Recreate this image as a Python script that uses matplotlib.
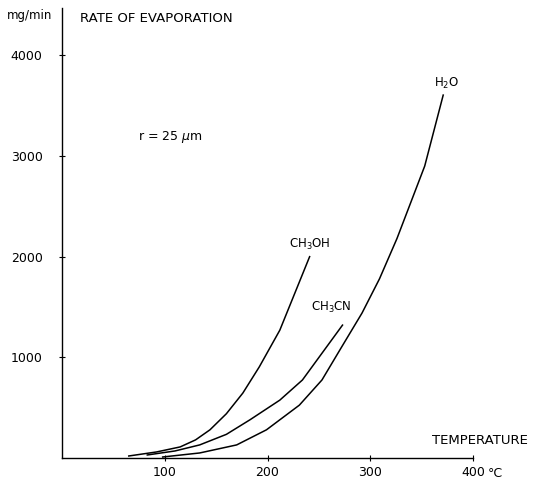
import matplotlib
matplotlib.use("Agg")
import matplotlib.pyplot as plt
import matplotlib.transforms as mtransforms

# values (temperature in °C, rate in mg/min)
t_ch3oh = [65, 92, 115, 130, 144, 160, 176, 192, 212, 241]
r_ch3oh = [20, 60, 110, 180, 280, 440, 645, 905, 1270, 2000]

t_ch3cn = [83, 110, 134, 160, 183, 212, 234, 273]
r_ch3cn = [30, 70, 130, 235, 380, 575, 775, 1320]

t_h2o = [98, 134, 170, 199, 231, 253, 272, 292, 309, 326, 353, 371]
r_h2o = [10, 50, 130, 280, 525, 775, 1100, 1440, 1780, 2180, 2900, 3605]

x_ticks = [100, 200, 300, 400]
x_labels = ["100", "200", "300", "400"]
y_ticks = [1000, 2000, 3000, 4000]
y_labels = ["1000", "2000", "3000", "4000"]

fig = plt.figure(figsize=(5.48, 4.83), dpi=100)
ax = fig.add_axes([62 / 548, 25 / 483, 411 / 548, 450 / 483])

lw = 1.1
ax.plot(t_ch3oh, r_ch3oh, color="black", linewidth=lw)
ax.plot(t_ch3cn, r_ch3cn, color="black", linewidth=lw)
ax.plot(t_h2o, r_h2o, color="black", linewidth=lw)

ax.set_xlim(0, 400)
ax.set_ylim(0, 4470)

ax.spines["top"].set_visible(False)
ax.spines["right"].set_visible(False)
ax.spines["left"].set_linewidth(1.0)
ax.spines["bottom"].set_linewidth(1.0)

ax.set_xticks(x_ticks)
ax.set_xticklabels(x_labels)
ax.set_yticks(y_ticks)
ax.set_yticklabels(y_labels)
ax.tick_params(direction="inout", length=4, width=0.8, labelsize=9, color="black")
ax.tick_params(axis="x", pad=4)
ax.tick_params(axis="y", pad=12)

# curve labels
ax.text(241, 2050, r"CH$_3$OH", fontsize=8.5, ha="center", va="bottom")
ax.text(262, 1420, r"CH$_3$CN", fontsize=8.5, ha="center", va="bottom")
ax.text(374, 3650, r"H$_2$O", fontsize=8.5, ha="center", va="bottom")

ax.text(74, 3190, r"r = 25 $\mu$m", fontsize=9, ha="left", va="center")

# axis titles
fig.text(7 / 548, 1 - 16 / 483, "mg/min", fontsize=8.5, ha="left", va="center")
fig.text(80 / 548, 1 - 19 / 483, "RATE OF EVAPORATION", fontsize=9.5, ha="left", va="center")
fig.text(432 / 548, 1 - 440 / 483, "TEMPERATURE", fontsize=9.5, ha="left", va="center")

trans = mtransforms.blended_transform_factory(ax.transData, ax.transAxes)
ax.text(414, -0.0196, "°C", transform=trans, fontsize=9, ha="left", va="top")

fig.savefig("out.png", dpi=100)
